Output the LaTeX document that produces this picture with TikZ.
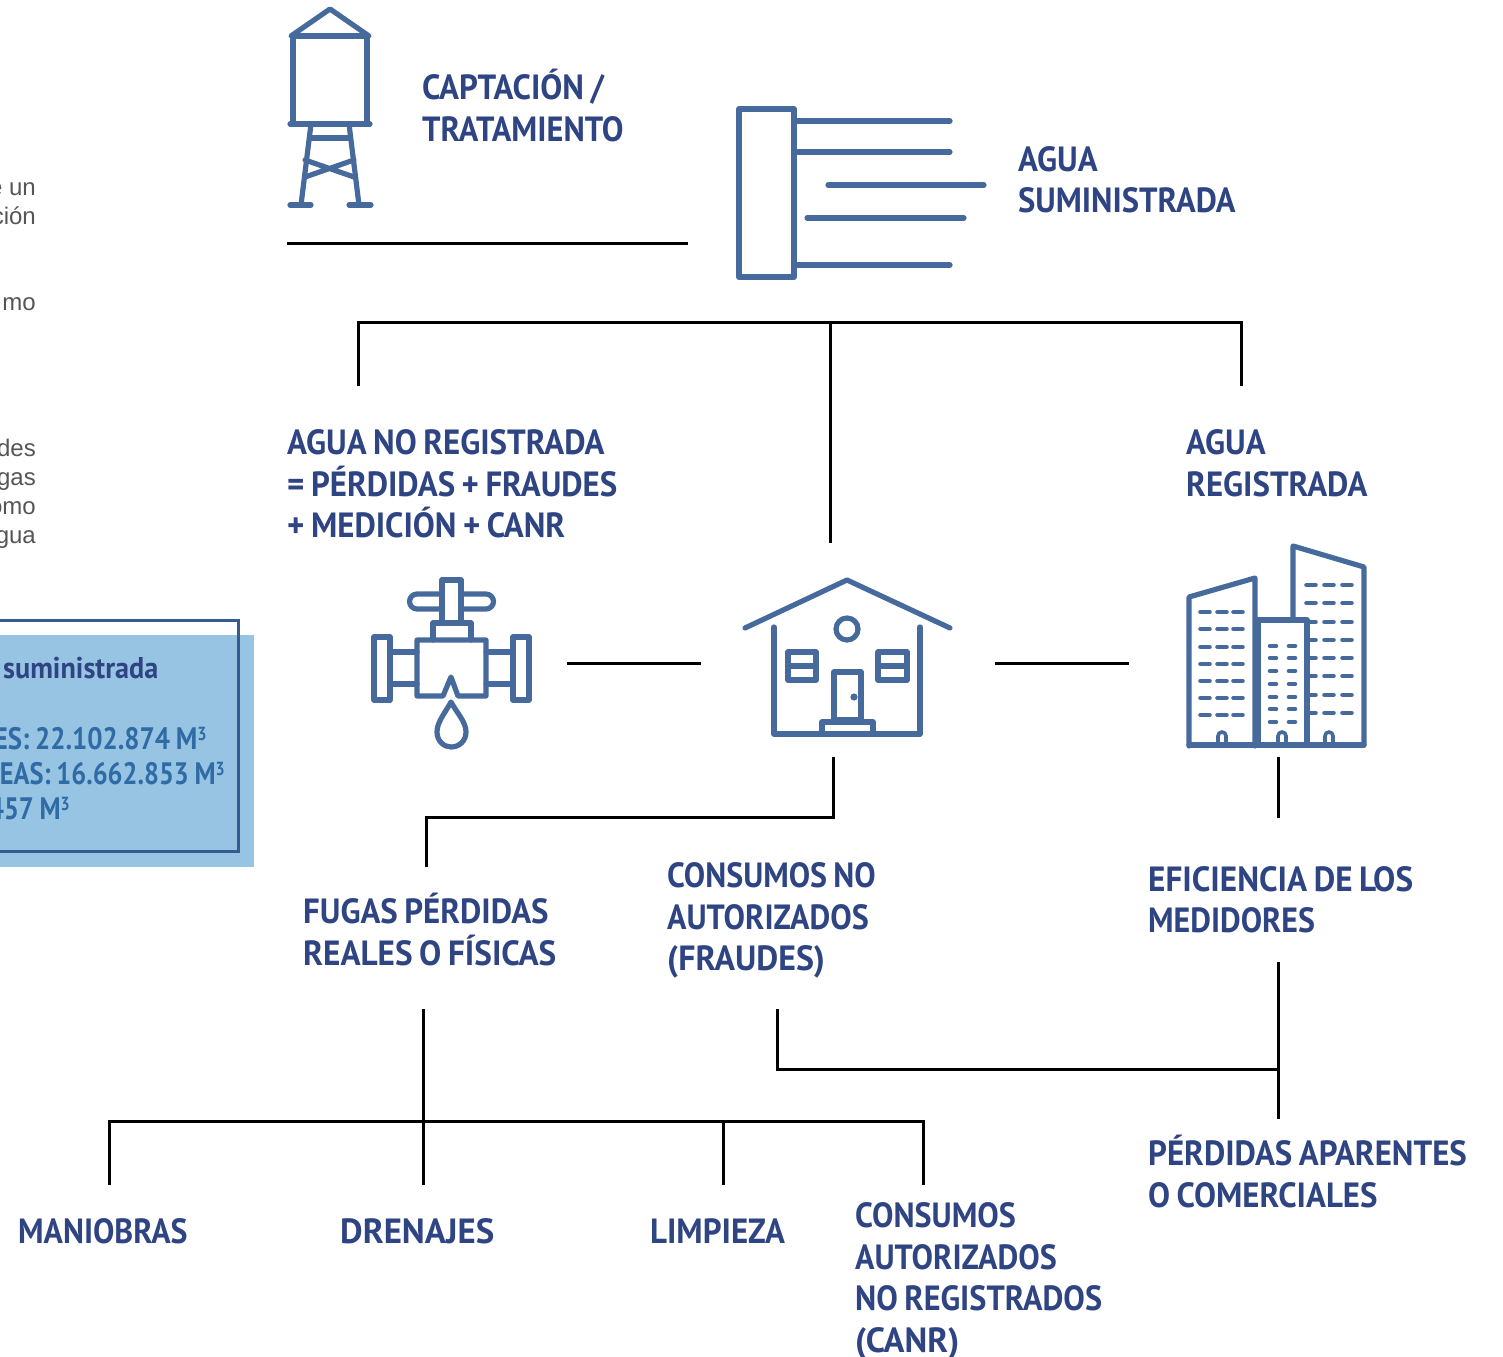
\documentclass[tikz,border=0pt]{standalone}
\usepackage{graphicx}
\usepackage{fontspec}
\setmainfont{PT Sans}
\newfontfamily\bodyfont{Liberation Sans}
\newfontfamily\din[FakeStretch=0.94,WordSpace=0.78]{PT Sans}
\newfontfamily\dinnum[FakeStretch=0.85,WordSpace=0.85]{PT Sans}
\definecolor{navy}{HTML}{2F4583}
\definecolor{icon}{HTML}{476A9C}
\definecolor{boxfill}{HTML}{98C4E4}
\definecolor{boxline}{HTML}{355C8F}
\definecolor{boxtext}{HTML}{2F6CA5}
\definecolor{bodygrey}{HTML}{555555}
\tikzset{
 x=1pt,y=-1pt,
 conn/.style={draw=black,line width=3pt},
 ic/.style={draw=icon,line width=5.2pt,line cap=round,line join=round},
 win/.style={draw=icon,line width=4.6pt,line cap=round},
 lab/.style={inner sep=0pt,anchor=base west,align=left,text=navy,font=\din\bfseries\fontsize{35}{41.6}\selectfont},
 grey/.style={inner sep=0pt,anchor=base east,text=bodygrey,font=\bodyfont\fontsize{24}{28}\selectfont},
 num/.style={inner sep=0pt,anchor=base east,text=boxtext,font=\dinnum\bfseries\fontsize{31}{35}\selectfont},
}
\newcommand{\cub}{\raisebox{9pt}{\fontsize{19}{19}\selectfont 3}}
\newcommand{\sx}[2]{\scalebox{#1}[1]{#2}}
\begin{document}
\begin{tikzpicture}
\useasboundingbox (0,0) rectangle (1503,1356);
\begin{scope}
\clip (0,0) rectangle (1503,1356);
% side panel
\fill[boxfill] (-20,635) rectangle (254,867);
\draw[boxline,line width=3pt] (-20,620) -- (238,620) -- (238,851) -- (-20,851);
\node[inner sep=0pt,anchor=base west,text=navy,font=\din\bfseries\fontsize{30}{34}\selectfont] (t0) at (3,678) {suministrada};
\node[num] (n1) at (207,749) {\sx{1.02}{LES: 22.102.874 M\cub}};
\node[num] (n2) at (225,784) {EAS: 16.662.853 M\cub};
\node[num] (n3) at (70,819) {457 M\cub};
% clipped body text
\node[grey] (g1) at (36,196) {e un};
\node[grey] (g2) at (36,225) {ción};
\node[grey] (g3) at (36,310) {mo};
\node[grey] (g4) at (36,456) {des};
\node[grey] (g5) at (36,485) {gas};
\node[grey] (g6) at (36,514) {omo};
\node[grey] (g7) at (36,543) {gua};
\end{scope}
% water tower
\draw[ic] (291,36) -- (330,9) -- (369,36) -- cycle;
\draw[ic] (293,36) rectangle (367,124);
\draw[ic] (290,124) -- (370,124);
\draw[ic] (311,124) -- (301,205) (349,124) -- (359,205);
\draw[ic] (290,205) -- (311,205) (349,205) -- (371,205);
\draw[ic] (310,138) -- (350,138);
\draw[ic] (305,160) -- (354,177) (305,177) -- (354,160);
% supply icon
\draw[ic] (739,109) rectangle (794,277);
\draw[ic] (794,121) -- (950,121) (794,152) -- (950,152) (828,185) -- (984,185) (807,218) -- (964,218) (794,265) -- (950,265);
% valve
\draw[ic] (442,609) -- (442,580) -- (461,580) -- (461,622) (442,622) -- (442,609);
\draw[ic] (442,594) -- (417,594) arc[start angle=270,end angle=90,radius=7.5] -- (442,609);
\draw[ic] (461,594) -- (486,594) arc[start angle=-90,end angle=90,radius=7.5] -- (461,609);
\draw[ic] (433,640) -- (433,623) -- (471,623) -- (471,640);
\draw[ic] (417,640) -- (486,640) -- (486,696) -- (458,696) -- (451,677) -- (443,696) -- (417,696) -- cycle;
\draw[ic] (374,637) rectangle (390,700);
\draw[ic] (513,637) rectangle (529,700);
\draw[ic] (390,652) -- (417,652) (390,684) -- (417,684) (486,652) -- (513,652) (486,684) -- (513,684);
\draw[ic] (451,702) .. controls (445,713) and (437,722) .. (437,732) .. controls (437,741) and (444,747) .. (451,747) .. controls (459,747) and (466,741) .. (466,732) .. controls (466,722) and (457,713) .. (451,702) -- cycle;
% house
\draw[ic] (745,628) -- (847,580) -- (950,628);
\draw[ic] (774,627) -- (774,734) -- (920,734) -- (920,627);
\draw[ic] (847,629) circle[radius=11];
\draw[ic] (788,652) rectangle (816,680) (788,666) -- (816,666);
\draw[ic] (878,652) rectangle (907,680) (878,666) -- (907,666);
\draw[ic] (834,720) -- (834,672) -- (861,672) -- (861,720);
\fill[icon] (854,697) circle[radius=3.6];
\draw[ic] (822,734) -- (822,722) -- (873,722) -- (873,734);
\draw[ic] (834,720) -- (861,720);
% buildings
\draw[ic] (1189,746) -- (1189,597) -- (1255,578) -- (1255,746);
\draw[ic] (1293,620) -- (1293,546) -- (1364,567) -- (1364,745);
\draw[ic] (1258,745) -- (1258,620) -- (1307,620) -- (1307,745);
\draw[ic] (1189,745) -- (1364,745);
\foreach \yy in {612,629,647,664,681,698,715}{\foreach \xx in {1205,1222,1238}{\draw[win] (\xx-4.5,\yy) -- (\xx+4.5,\yy);}}
\foreach \yy in {646,658,671,684,697,709,722}{\foreach \xx in {1273,1292}{\draw[win] (\xx-3,\yy) -- (\xx+3,\yy);}}
\foreach \yy in {585,603,622,640,658,676,695,713}{\foreach \xx in {1311,1329,1347}{\draw[win] (\xx-4.5,\yy) -- (\xx+4.5,\yy);}}
\foreach \xx in {1222,1282,1329}{\draw[icon,line width=3.6pt] (\xx-4,745) -- (\xx-4,736) arc[start angle=180,end angle=360,radius=4] -- (\xx+4,745);}
% labels
\node[lab] (captacion) at (422,100) {CAPTACIÓN /};
\node[lab] (tratamiento) at (422,142) {\sx{.985}{TRATAMIENTO}};
\node[lab] (agua1) at (1018,171.5) {AGUA};
\node[lab] (suministrada) at (1018,212.5) {\sx{.99}{SUMINISTRADA}};
\node[lab] (noreg1) at (287,454.5) {AGUA NO REGISTRADA};
\node[lab] (noreg2) at (287,496) {= PÉRDIDAS + FRAUDES};
\node[lab] (noreg3) at (287,537.5) {+ MEDICIÓN + CANR};
\node[lab] (reg1) at (1186,454.5) {AGUA};
\node[lab] (reg2) at (1186,496) {REGISTRADA};
\node[lab] (fugas1) at (303,923.5) {FUGAS PÉRDIDAS};
\node[lab] (fugas2) at (303,965.5) {\sx{1.01}{REALES O FÍSICAS}};
\node[lab] (cons1) at (667,887.5) {\sx{.97}{CONSUMOS NO}};
\node[lab] (cons2) at (667,929.5) {\sx{.975}{AUTORIZADOS}};
\node[lab] (cons3) at (667,970.5) {\sx{1.03}{(FRAUDES)}};
\node[lab] (efi1) at (1148,891.5) {\sx{1.01}{EFICIENCIA DE LOS}};
\node[lab] (efi2) at (1148,932.5) {\sx{.97}{MEDIDORES}};
\node[lab] (per1) at (1148,1165) {PÉRDIDAS APARENTES};
\node[lab] (per2) at (1148,1207) {O COMERCIALES};
\node[lab] (man) at (18,1243.5) {\sx{.97}{MANIOBRAS}};
\node[lab] (dre) at (340,1243.5) {\sx{1.06}{DRENAJES}};
\node[lab] (lim) at (650,1243.5) {LIMPIEZA};
\node[lab] (canr1) at (855,1227.5) {\sx{.975}{CONSUMOS}};
\node[lab] (canr2) at (855,1269.5) {\sx{.975}{AUTORIZADOS}};
\node[lab] (canr3) at (855,1310.5) {\sx{.98}{NO REGISTRADOS}};
\node[lab] (canr4) at (855,1352.5) {\sx{1.05}{(CANR)}};
% connector ends
\coordinate (c1a) at (287,244); \coordinate (c1b) at (688,244);
\coordinate (t1) at (358,386); \coordinate (t2) at (1241,386); \coordinate (tm) at (830,322); \coordinate (tn) at (830,543);
\coordinate (v1) at (567,663); \coordinate (v2) at (701,663); \coordinate (h1) at (995,663); \coordinate (h2) at (1129,663);
\coordinate (f1) at (833,757); \coordinate (f2) at (426,867);
\coordinate (e1) at (1278,757); \coordinate (e2) at (1278,818);
\coordinate (p1) at (1278,962); \coordinate (p2) at (1278,1119); \coordinate (p3) at (777,1009); \coordinate (pj) at (1278,1069);
\coordinate (d1) at (423,1009); \coordinate (d2) at (423,1185); \coordinate (m1) at (109,1185); \coordinate (c2) at (923,1185); \coordinate (l1) at (723,1185); \coordinate (lj) at (723,1121);
% connectors
\draw[conn] (c1a) -- (c1b);
\draw[conn] (t1) -- (358,322) -- (1241,322) -- (t2);
\draw[conn] (tm) -- (tn);
\draw[conn] (v1) -- (v2);
\draw[conn] (h1) -- (h2);
\draw[conn] (f1) -- (833,817) -- (426,817) -- (f2);
\draw[conn] (e1) -- (e2);
\draw[conn] (p1) -- (p2);
\draw[conn] (p3) -- (777,1069) -- (pj);
\draw[conn] (d1) -- (d2);
\draw[conn] (m1) -- (109,1121) -- (923,1121) -- (c2);
\draw[conn] (lj) -- (l1);
\end{tikzpicture}
\end{document}
